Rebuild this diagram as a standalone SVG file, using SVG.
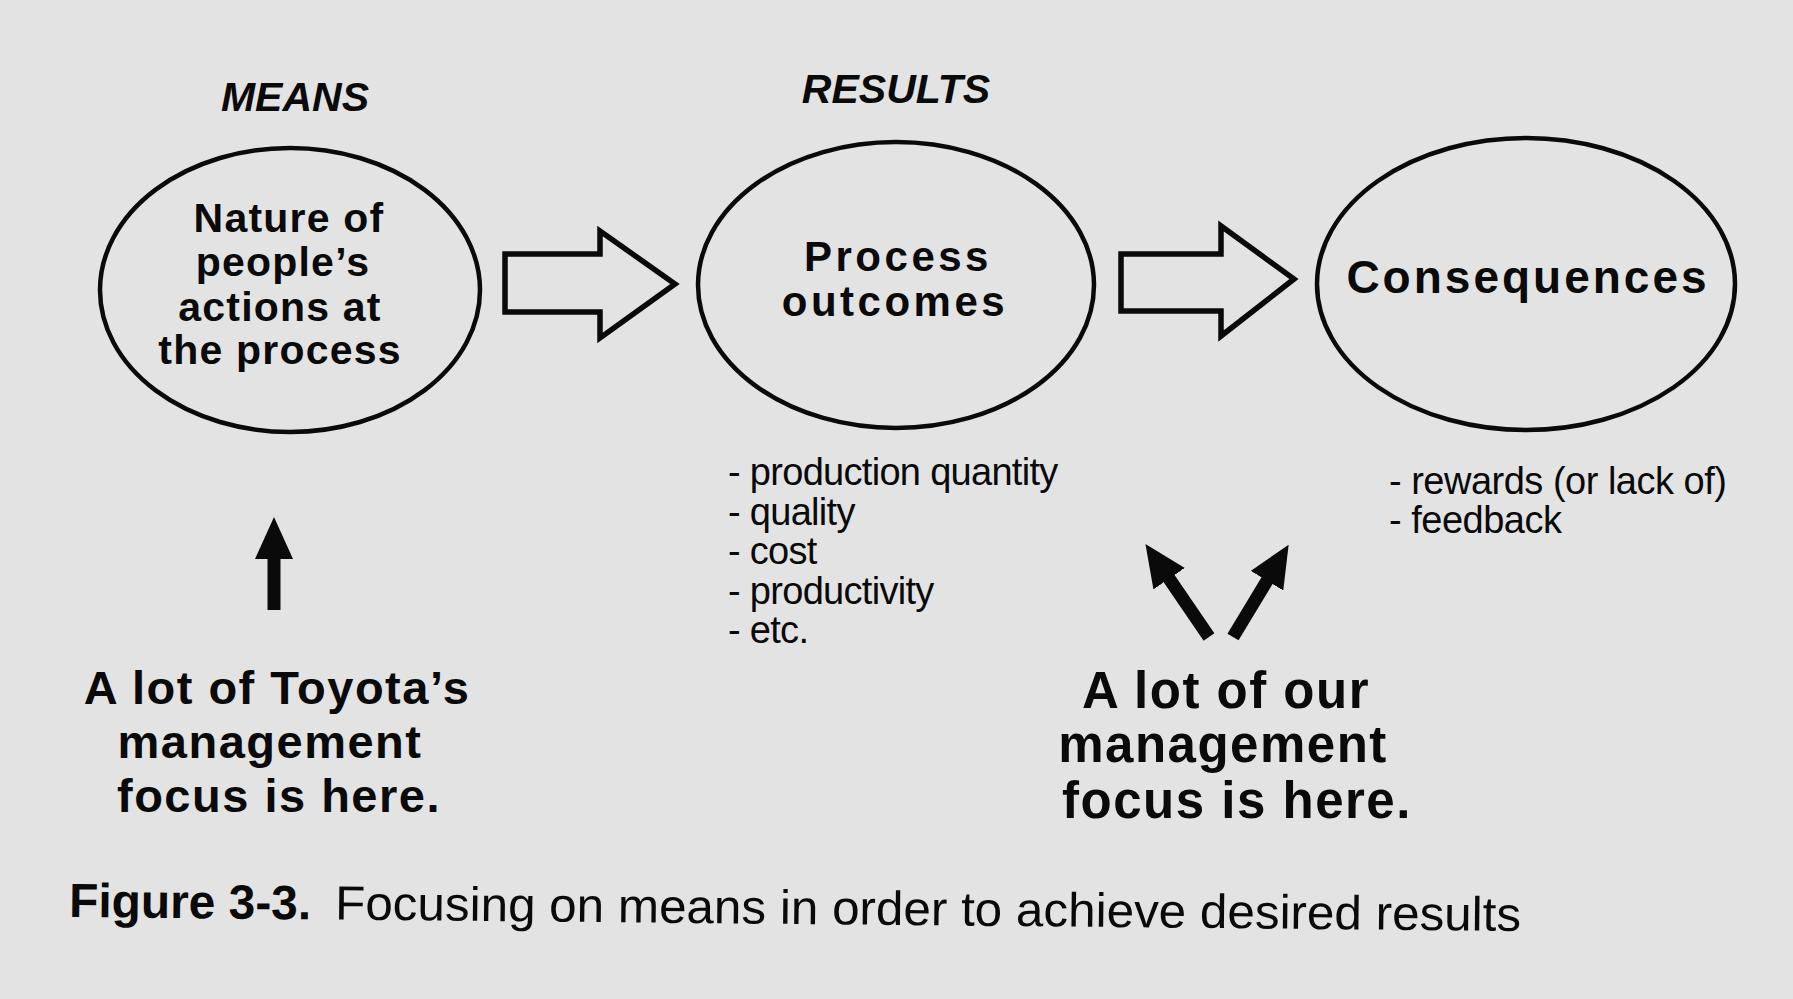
<svg xmlns="http://www.w3.org/2000/svg" width="1793" height="999" viewBox="0 0 1793 999">
<style>
.node ellipse{fill:none;stroke:#0a0a0a;stroke-width:4.5}
.head{font-family:"Liberation Sans",Arial,sans-serif;font-weight:bold;font-style:italic;font-size:41px;fill:#0a0a0a;text-anchor:middle}
.ntext{font-family:"Liberation Sans",Arial,sans-serif;font-weight:bold;font-size:41px;fill:#0a0a0a;text-anchor:middle;letter-spacing:1.2px}
.ptext{font-family:"Liberation Sans",Arial,sans-serif;font-weight:bold;font-size:42px;fill:#0a0a0a;text-anchor:middle;letter-spacing:3.5px}
.list{font-family:"Liberation Sans",Arial,sans-serif;font-size:38px;fill:#0a0a0a;letter-spacing:-0.7px}
.note{font-family:"Liberation Sans",Arial,sans-serif;font-weight:bold;font-size:47px;fill:#0a0a0a;text-anchor:middle;letter-spacing:1.5px}
.note2{font-family:"Liberation Sans",Arial,sans-serif;font-weight:bold;font-size:51px;fill:#0a0a0a;text-anchor:middle;letter-spacing:1.5px}
.cap{font-family:"Liberation Sans",Arial,sans-serif;font-size:48px;fill:#0a0a0a}
.block{fill:none;stroke:#0a0a0a;stroke-width:5.5;stroke-linejoin:miter}
.thin{stroke:#0a0a0a;stroke-width:13;fill:none}
</style>
<defs>
<marker id="ah" viewBox="0 0 42 38" refX="2" refY="19" markerWidth="42" markerHeight="38" markerUnits="userSpaceOnUse" orient="auto">
<path d="M0,0 L42,19 L0,38 z" fill="#0a0a0a"/>
</marker>
</defs>
<rect width="1793" height="999" fill="#e3e3e3"/>

<text class="head" x="295" y="111">MEANS</text>
<text class="head" x="896" y="103">RESULTS</text>

<g id="node-means" class="node">
<ellipse cx="290" cy="290" rx="190" ry="142"/>
<text class="ntext" x="289" y="232">Nature of</text>
<text class="ntext" x="283" y="276">people’s</text>
<text class="ntext" x="280" y="321">actions at</text>
<text class="ntext" x="280" y="364">the process</text>
</g>

<g id="node-outcomes" class="node">
<ellipse cx="896" cy="285" rx="198" ry="143"/>
<text class="ptext" x="898" y="271">Process</text>
<text class="ptext" x="895" y="316">outcomes</text>
</g>

<g id="node-consequences" class="node">
<ellipse cx="1526" cy="284" rx="209" ry="146"/>
<text class="ptext" x="1528" y="293" style="font-size:46px;letter-spacing:3px">Consequences</text>
</g>

<g id="outcome-list">
<text class="list" x="728" y="485">- production quantity</text>
<text class="list" x="728" y="525">- quality</text>
<text class="list" x="728" y="564">- cost</text>
<text class="list" x="728" y="604">- productivity</text>
<text class="list" x="728" y="643">- etc.</text>
</g>

<g id="consequence-list">
<text class="list" x="1389" y="494" style="letter-spacing:-0.5px">- rewards (or lack of)</text>
<text class="list" x="1389" y="533" style="letter-spacing:-0.5px">- feedback</text>
</g>

<g id="note-toyota">
<text class="note" x="277" y="704">A lot of Toyota’s</text>
<text class="note" x="270" y="758">management</text>
<text class="note" x="279" y="812">focus is here.</text>
</g>

<g id="note-our">
<text class="note2" x="1226" y="708">A lot of our</text>
<text class="note2" x="1223" y="762">management</text>
<text class="note2" x="1237" y="818">focus is here.</text>
</g>

<g id="connectors">
<polygon class="block" points="505,254 600,254 600,231 675,284 600,338 600,312 505,312"/>
<polygon class="block" points="1121,254 1221,254 1221,226 1294,279 1221,336 1221,311 1121,311"/>
<line class="thin" x1="274" y1="610" x2="274" y2="557" marker-end="url(#ah)"/>
<line class="thin" x1="1209" y1="637" x2="1168" y2="577" marker-end="url(#ah)"/>
<line class="thin" x1="1233" y1="637" x2="1268" y2="579" marker-end="url(#ah)"/>
</g>

<g id="caption" transform="rotate(0.55 69 917)">
<text class="cap" x="69" y="917" font-weight="bold" textLength="242" lengthAdjust="spacingAndGlyphs">Figure 3-3.</text>
<text class="cap" x="335" y="917" textLength="1186" lengthAdjust="spacingAndGlyphs">Focusing on means in order to achieve desired results</text>
</g>
</svg>
